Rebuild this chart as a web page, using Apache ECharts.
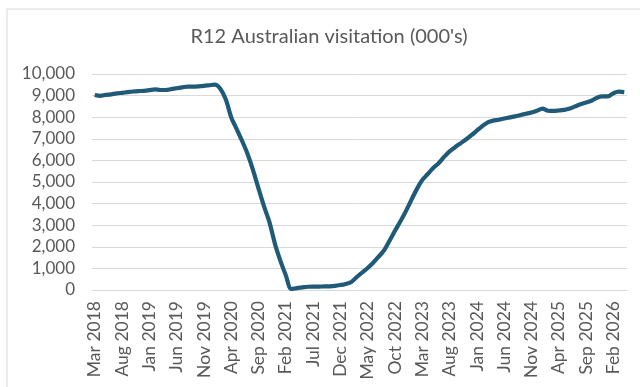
<!DOCTYPE html>
<html>
<head>
<meta charset="utf-8">
<script src="https://cdn.jsdelivr.net/npm/echarts@6/dist/echarts.min.js"></script>
<style>
  html, body { margin: 0; padding: 0; background: #fff; }
  #main { width: 640px; height: 387px; }
</style>
</head>
<body>
<div id="main"></div>
<script>
// monthly categories, Mar 2018 - Apr 2026
var months = [
  'Mar 2018','Apr 2018','May 2018','Jun 2018','Jul 2018','Aug 2018','Sep 2018','Oct 2018','Nov 2018','Dec 2018',
  'Jan 2019','Feb 2019','Mar 2019','Apr 2019','May 2019','Jun 2019','Jul 2019','Aug 2019','Sep 2019','Oct 2019','Nov 2019','Dec 2019',
  'Jan 2020','Feb 2020','Mar 2020','Apr 2020','May 2020','Jun 2020','Jul 2020','Aug 2020','Sep 2020','Oct 2020','Nov 2020','Dec 2020',
  'Jan 2021','Feb 2021','Mar 2021','Apr 2021','May 2021','Jun 2021','Jul 2021','Aug 2021','Sep 2021','Oct 2021','Nov 2021','Dec 2021',
  'Jan 2022','Feb 2022','Mar 2022','Apr 2022','May 2022','Jun 2022','Jul 2022','Aug 2022','Sep 2022','Oct 2022','Nov 2022','Dec 2022',
  'Jan 2023','Feb 2023','Mar 2023','Apr 2023','May 2023','Jun 2023','Jul 2023','Aug 2023','Sep 2023','Oct 2023','Nov 2023','Dec 2023',
  'Jan 2024','Feb 2024','Mar 2024','Apr 2024','May 2024','Jun 2024','Jul 2024','Aug 2024','Sep 2024','Oct 2024','Nov 2024','Dec 2024',
  'Jan 2025','Feb 2025','Mar 2025','Apr 2025','May 2025','Jun 2025','Jul 2025','Aug 2025','Sep 2025','Oct 2025','Nov 2025','Dec 2025',
  'Jan 2026','Feb 2026','Mar 2026','Apr 2026'
];

// R12 visitation, 000's
var visitation = [
  9030, 8990, 9030, 9060, 9100, 9130, 9160, 9190, 9210, 9220,
  9250, 9290, 9260, 9260, 9300, 9340, 9380, 9420, 9420, 9430, 9450, 9480,
  9510, 9320, 8830, 8000, 7450, 6900, 6300, 5550, 4700, 3880, 3140, 2150,
  1360, 680, 50, 90, 120, 150, 160, 160, 165, 170, 190, 230,
  280, 370, 600, 810, 1020, 1260, 1540, 1840, 2280, 2740, 3180, 3650,
  4170, 4670, 5090, 5370, 5650, 5870, 6160, 6420, 6610, 6790, 6970, 7170,
  7380, 7590, 7760, 7840, 7880, 7940, 7990, 8040, 8100, 8160, 8220, 8300,
  8400, 8300, 8290, 8310, 8340, 8400, 8500, 8600, 8680, 8760, 8900, 8960,
  8960, 9110, 9180, 9160
];

var chart = echarts.init(document.getElementById('main'));
chart.setOption({
  animation: false,
  textStyle: { fontFamily: 'Lato' },
  graphic: [{
    type: 'rect',
    shape: { x: 7, y: 9, width: 700, height: 500 },
    style: { fill: 'none', stroke: '#d9d9d9', lineWidth: 1 },
    silent: true
  }],
  title: {
    text: "R12 Australian visitation (000's)",
    left: 329,
    top: 27,
    textAlign: 'center',
    padding: 0,
    textStyle: { color: '#595959', fontSize: 20, fontWeight: 'normal', fontFamily: 'Lato' }
  },
  grid: { left: 92, right: 13, top: 74, bottom: 97 },
  xAxis: {
    type: 'category',
    boundaryGap: true,
    data: months,
    axisLine: { lineStyle: { color: '#d9d9d9', width: 1 } },
    axisTick: { show: false },
    axisLabel: {
      interval: 4,
      rotate: 90,
      margin: 11,
      color: '#595959',
      fontSize: 17.5,
      fontFamily: 'Lato'
    }
  },
  yAxis: {
    type: 'value',
    min: 0,
    max: 10000,
    interval: 1000,
    axisLine: { show: false },
    axisTick: { show: false },
    splitLine: { lineStyle: { color: '#d9d9d9', width: 1 } },
    axisLabel: {
      margin: 17,
      color: '#595959',
      fontSize: 17,
      fontFamily: 'Lato',
      formatter: function (v) { return v.toLocaleString('en-US'); }
    }
  },
  series: [{
    name: 'R12 Australian visitation',
    type: 'line',
    data: visitation,
    smooth: 0.3,
    showSymbol: false,
    lineStyle: { color: '#1f5a78', width: 4.2 },
    itemStyle: { color: '#1f5a78' }
  }]
});
</script>
</body>
</html>
